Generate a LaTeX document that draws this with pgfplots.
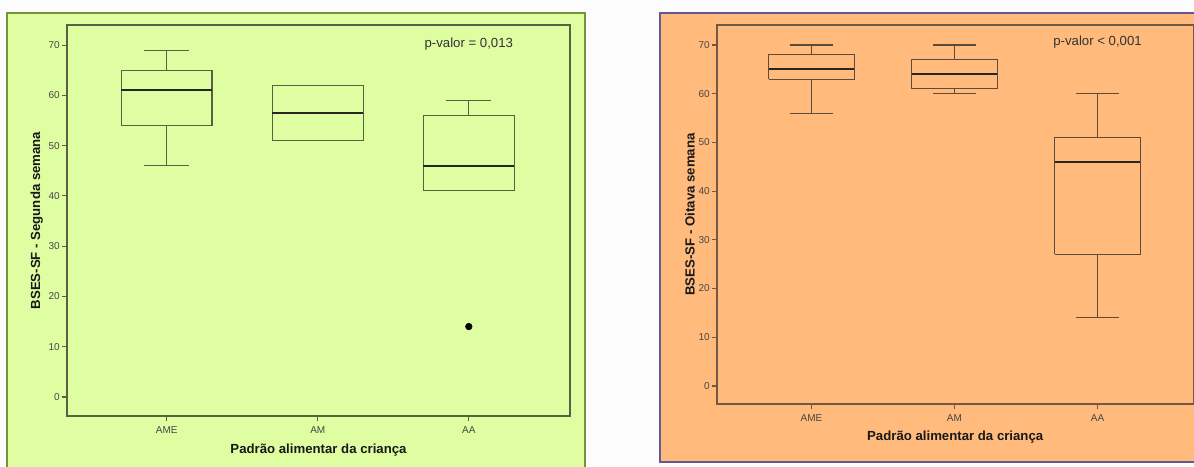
\documentclass[border=0pt]{standalone}
\usepackage{fontspec}
\setmainfont{Liberation Sans}
\usepackage{pgfplots}
\pgfplotsset{compat=1.18}
\definecolor{bgG}{RGB}{223,253,161}
\definecolor{frG}{RGB}{118,146,62}
\definecolor{axG}{RGB}{88,98,66}
\definecolor{bgO}{RGB}{255,186,124}
\definecolor{frO}{RGB}{102,88,150}
\definecolor{axO}{RGB}{112,88,66}
\definecolor{bxO}{RGB}{92,74,58}
\definecolor{tk}{RGB}{70,70,70}
\pgfplotsset{
  panel/.style={
    scale only axis,
    xmin=-0.66, xmax=2.67,
    xtick={0,1,2}, xticklabels={AME,AM,AA},
    ytick={0,10,...,70},
    tick pos=left, tick align=outside,
    major tick length=2.6pt,
    ticklabel style={font=\fontsize{5}{6}\selectfont, text=tk},
    /pgf/number format/assume math mode=true,
    yticklabel style={xshift=2.5pt},
    xticklabel style={yshift=1pt},
    clip=false,
  },
  bx/.style={draw=#1, line width=0.55pt, line join=miter, mark=none},
  md/.style={draw=black!85, line width=1.1pt, mark=none},
}
\begin{document}
\begin{tikzpicture}
\useasboundingbox (0,0) rectangle (597pt,233pt);
\fill[white!98!gray] (0,0) rectangle (597pt,233pt);
% outer frames
\filldraw[fill=bgG, draw=frG, line width=1pt] (3.5pt,-5pt) rectangle (292.5pt,226.5pt);
\filldraw[fill=bgO, draw=frO, line width=1pt] (330pt,2pt) rectangle (605pt,226.5pt);
% ---------------- left panel: Segunda semana
\begin{axis}[panel,
  at={(33.5pt,25pt)}, anchor=south west,
  width=251.5pt, height=195.5pt,
  ymin=-3.8, ymax=74,
  axis line style={draw=axG, line width=0.6pt},
  tick style={draw=axG, line width=0.6pt},
]
% AME: lw 46, q1 54, med 61, q3 65, uw 69
\addplot[bx=axG] coordinates {(-0.3,54) (0.3,54) (0.3,65) (-0.3,65) (-0.3,54)};
\addplot[bx=axG] coordinates {(0,54) (0,46)};
\addplot[bx=axG] coordinates {(-0.15,46) (0.15,46)};
\addplot[bx=axG] coordinates {(0,65) (0,69)};
\addplot[bx=axG] coordinates {(-0.15,69) (0.15,69)};
\addplot[md] coordinates {(-0.3,61) (0.3,61)};
% AM: q1 51, med 56.5, q3 62
\addplot[bx=axG] coordinates {(0.7,51) (1.3,51) (1.3,62) (0.7,62) (0.7,51)};
\addplot[md] coordinates {(0.7,56.5) (1.3,56.5)};
% AA: q1 41, med 46, q3 56, uw 59, outlier 14
\addplot[bx=axG] coordinates {(1.7,41) (2.3,41) (2.3,56) (1.7,56) (1.7,41)};
\addplot[bx=axG] coordinates {(2,56) (2,59)};
\addplot[bx=axG] coordinates {(1.85,59) (2.15,59)};
\addplot[md] coordinates {(1.7,46) (2.3,46)};
\addplot[only marks, mark=*, mark size=1.6pt, black] coordinates {(2,14)};
\node[font=\fontsize{6.6}{8}\selectfont, text=black!80] at (axis cs:2,70.2) {p-valor = 0,013};
\node[font=\bfseries\fontsize{6.6}{8}\selectfont, rotate=90, text=black!90] at (rel axis cs:-0.06,0.5) {BSES-SF - Segunda semana};
\node[font=\bfseries\fontsize{6.6}{8}\selectfont, text=black!90] at (rel axis cs:0.5,-0.087) {Padrão alimentar da criança};
\end{axis}
% ---------------- right panel: Oitava semana
\begin{axis}[panel,
  at={(358.5pt,31pt)}, anchor=south west,
  width=238.2pt, height=189.5pt,
  ymin=-3.7, ymax=74.1,
  axis line style={draw=axO, line width=0.6pt},
  tick style={draw=axO, line width=0.6pt},
]
% AME: lw 56, q1 63, med 65, q3 68, uw 70
\addplot[bx=bxO] coordinates {(-0.3,63) (0.3,63) (0.3,68) (-0.3,68) (-0.3,63)};
\addplot[bx=bxO] coordinates {(0,63) (0,56)};
\addplot[bx=bxO] coordinates {(-0.15,56) (0.15,56)};
\addplot[bx=bxO] coordinates {(0,68) (0,70)};
\addplot[bx=bxO] coordinates {(-0.15,70) (0.15,70)};
\addplot[md] coordinates {(-0.3,65) (0.3,65)};
% AM: lw 60, q1 61, med 64, q3 67, uw 70
\addplot[bx=bxO] coordinates {(0.7,61) (1.3,61) (1.3,67) (0.7,67) (0.7,61)};
\addplot[bx=bxO] coordinates {(1,61) (1,60)};
\addplot[bx=bxO] coordinates {(0.85,60) (1.15,60)};
\addplot[bx=bxO] coordinates {(1,67) (1,70)};
\addplot[bx=bxO] coordinates {(0.85,70) (1.15,70)};
\addplot[md] coordinates {(0.7,64) (1.3,64)};
% AA: lw 14, q1 27, med 46, q3 51, uw 60
\addplot[bx=bxO] coordinates {(1.7,27) (2.3,27) (2.3,51) (1.7,51) (1.7,27)};
\addplot[bx=bxO] coordinates {(2,27) (2,14)};
\addplot[bx=bxO] coordinates {(1.85,14) (2.15,14)};
\addplot[bx=bxO] coordinates {(2,51) (2,60)};
\addplot[bx=bxO] coordinates {(1.85,60) (2.15,60)};
\addplot[md] coordinates {(1.7,46) (2.3,46)};
\node[font=\fontsize{6.6}{8}\selectfont, text=black!80] at (axis cs:2,70.6) {p-valor < 0,001};
\node[font=\bfseries\fontsize{6.6}{8}\selectfont, rotate=90, text=black!90] at (rel axis cs:-0.057,0.5) {BSES-SF - Oitava semana};
\node[font=\bfseries\fontsize{6.6}{8}\selectfont, text=black!90] at (rel axis cs:0.5,-0.087) {Padrão alimentar da criança};
\end{axis}
\end{tikzpicture}
\end{document}
